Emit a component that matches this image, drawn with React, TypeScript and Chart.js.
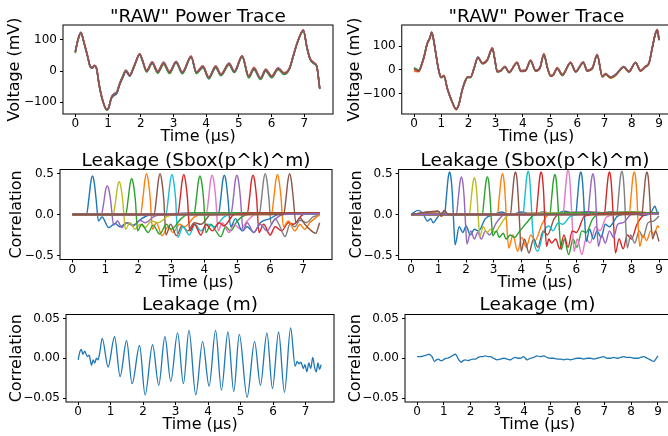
import React, { useEffect, useRef } from "react";
import { Chart, registerables } from "chart.js";
Chart.register(...registerables);

type Pt = [number, number];

const C = ["#1f77b4", "#ff7f0e", "#2ca02c", "#d62728", "#9467bd", "#8c564b", "#e377c2", "#7f7f7f", "#bcbd22", "#17becf"];

// ---------- tick values / labels ----------
const xTicksL = [0, 1, 2, 3, 4, 5, 6, 7];
const xTicksR = [0, 1, 2, 3, 4, 5, 6, 7, 8, 9];
const yTicksRaw = [-100, 0, 100];
const yLabelsRaw = ["\u2212100", "0", "100"];
const yTicksCorr = [-0.5, 0, 0.5];
const yLabelsCorr = ["\u22120.5", "0.0", "0.5"];
const yTicksM = [-0.05, 0, 0.05];
const yLabelsM = ["\u22120.05", "0.00", "0.05"];

// ---------- "RAW" power trace, left (mV) ----------
const rawTimeL = [0.00,0.08,0.17,0.27,0.38,0.45,0.52,0.58,0.65,0.73,0.83,0.96,1.02,1.10,1.18,1.27,1.35,1.45,1.55,1.66,1.80,1.97,2.05,2.18,2.35,2.52,2.70,2.88,3.08,3.27,3.54,3.70,3.90,4.08,4.29,4.45,4.70,4.86,5.10,5.30,5.46,5.66,5.82,6.00,6.20,6.38,6.55,6.65,6.78,6.97,7.08,7.18,7.30,7.38,7.47];
const rawL_blue = [60,99,123,89,45,15,9,16,7,-46,-93,-125,-120,-90,-79,-72,-47,-22,-2,-17,13,52,33,-2,24,-6,22,-7,27,-8,44,-8,11,-25,11,-14,20,-5,45,-21,5,-27,0,-21,5,-10,8,43,89,130,74,37,24,14,-56];
const rawL_orange = [58,98,122,92,48,18,12,18,10,-42,-90,-122,-117,-85,-74,-68,-42,-18,2,-12,18,53,37,3,30,0,29,-1,28,-2,45,-2,18,-19,17,-9,26,0,46,-15,12,-21,7,-15,11,-5,12,47,92,128,77,40,27,17,-55];
const rawL_green = [58,97,121,88,44,14,9,16,7,-47,-94,-126,-119,-86,-73,-66,-40,-15,3,-12,17,52,33,-3,25,-7,22,-8,27,-9,44,-8,12,-25,11,-15,20,-5,45,-22,5,-27,0,-21,5,-11,8,43,88,127,73,36,23,13,-58];
const rawL_red = [64,101,125,91,47,17,11,18,9,-44,-91,-123,-117,-86,-75,-69,-44,-19,1,-14,16,56,36,1,28,-2,26,-3,31,-4,48,-4,15,-21,15,-11,24,-1,49,-17,9,-23,4,-17,9,-7,9,44,89,133,76,39,26,16,-56];
const rawL_purple = [61,100,125,91,47,17,11,19,9,-44,-91,-123,-118,-87,-74,-68,-43,-18,2,-13,17,55,36,2,29,-1,28,-2,31,-3,47,-3,16,-20,16,-10,25,0,48,-16,10,-22,6,-16,10,-6,11,46,91,131,76,39,26,16,-56];
const rawL_brown = [62,100,124,90,46,16,10,17,8,-45,-92,-124,-118,-88,-76,-70,-45,-20,0,-15,15,55,35,0,27,-3,25,-4,30,-5,47,-5,14,-22,14,-12,23,-2,48,-18,8,-24,3,-18,8,-8,10,45,90,132,75,38,25,15,-57];

// ---------- "RAW" power trace, right (mV) ----------
const rawTimeR = [0.00,0.18,0.30,0.37,0.49,0.58,0.65,0.73,0.80,0.88,0.96,1.02,1.10,1.22,1.40,1.55,1.65,1.77,1.90,1.97,2.08,2.20,2.35,2.51,2.69,2.88,2.96,3.06,3.18,3.34,3.49,3.79,3.92,4.10,4.28,4.47,4.63,4.77,4.90,5.02,5.12,5.26,5.45,5.75,5.94,6.22,6.36,6.55,6.73,6.92,7.04,7.22,7.40,7.71,7.89,8.14,8.32,8.50,8.63,8.75,8.87,8.94,9.00];
const rawR_blue = [8,0,31,57,114,136,159,121,71,15,-24,-30,-23,-76,-133,-165,-144,-84,-41,-29,-30,6,55,29,43,93,51,-6,-3,15,-9,32,-3,-1,40,-2,11,67,11,-24,-19,8,-20,32,-6,33,-2,8,64,-27,-16,-30,-20,15,-6,32,-2,15,29,93,156,170,128];
const rawR_orange = [-5,-8,25,52,110,132,155,122,72,16,-22,-28,-22,-75,-132,-168,-147,-87,-44,-28,-29,7,52,30,44,95,52,-5,-2,16,-8,34,-2,0,42,-1,12,70,12,-22,-17,10,-18,34,-4,35,0,10,66,-25,-14,-35,-24,12,-9,33,-1,16,30,95,152,172,130];
const rawR_green = [10,-1,32,58,115,135,157,118,68,12,-27,-33,-26,-79,-136,-164,-143,-83,-40,-32,-33,3,52,26,40,90,48,-9,-6,12,-12,29,-6,-4,37,-5,8,62,8,-27,-22,5,-24,28,-9,30,-5,5,60,-30,-19,-33,-23,12,-9,29,-5,12,26,90,153,167,125];
const rawR_red = [3,-5,28,55,112,133,160,123,73,15,-23,-29,-25,-78,-135,-167,-146,-86,-43,-31,-30,4,53,27,41,91,49,-8,-5,13,-11,30,-5,-3,38,-4,9,64,9,-26,-21,6,-22,30,-8,31,-4,6,62,-29,-18,-32,-22,13,-8,30,-4,13,27,91,154,168,126];
const rawR_purple = [6,-2,30,57,114,135,159,121,71,15,-24,-30,-24,-77,-134,-166,-145,-85,-42,-30,-31,5,55,29,43,93,51,-6,-3,15,-9,32,-3,-1,41,-2,11,68,11,-24,-19,8,-20,33,-6,34,-2,8,65,-27,-16,-30,-20,15,-6,32,-2,15,29,93,155,170,128];
const rawR_brown = [5,-3,30,56,113,134,158,120,70,14,-25,-31,-24,-77,-134,-166,-145,-85,-42,-30,-31,5,54,28,42,92,50,-7,-4,14,-10,31,-4,-2,39,-3,10,66,10,-25,-20,7,-21,31,-7,32,-3,7,63,-28,-17,-31,-21,14,-7,31,-3,14,28,92,155,169,127];

// ---------- Leakage (Sbox(p^k)^m), left: [time µs, correlation] per key byte ----------
const mlK0: Pt[] = [[0,0],[0.43,0],[0.5,0.19],[0.56,0.4],[0.61,0.47],[0.66,0.4],[0.72,0.19],[0.79,-0.08],[0.9,-0.03],[1.1,-0.16],[1.3,-0.11],[1.45,-0.15],[1.65,-0.1],[1.85,-0.13],[2.1,-0.05],[2.4,0],[3.0,0.01],[4.0,0.02],[5.0,0.01],[6.0,0.02],[7.5,0.01]];
const mlK1: Pt[] = [[0,0],[2.07,0],[2.14,0.2],[2.2,0.42],[2.25,0.5],[2.3,0.42],[2.36,0.2],[2.43,-0.18],[2.55,-0.1],[2.72,-0.26],[2.9,-0.15],[3.05,-0.22],[3.25,-0.12],[3.4,-0.15],[3.7,-0.03],[4.0,0.01],[5.0,0.02],[6.0,0.01],[7.5,0.02]];
const mlK2: Pt[] = [[0,0],[3.69,0],[3.76,0.19],[3.82,0.4],[3.87,0.47],[3.92,0.4],[3.98,0.19],[4.05,-0.22],[4.2,-0.12],[4.35,-0.2],[4.5,-0.27],[4.65,-0.15],[4.8,-0.2],[5.0,-0.08],[5.3,0],[6.2,0.02],[7.5,0.01]];
const mlK3: Pt[] = [[0,0],[5.3,0],[5.37,0.19],[5.43,0.41],[5.48,0.48],[5.53,0.41],[5.59,0.19],[5.66,-0.22],[5.8,-0.12],[6.0,-0.25],[6.15,-0.15],[6.35,-0.2],[6.55,-0.1],[6.7,-0.12],[7.0,0],[7.5,0.02]];
const mlK4: Pt[] = [[0,0],[0.88,0],[0.95,0.14],[1.01,0.3],[1.06,0.35],[1.11,0.3],[1.17,0.14],[1.25,-0.13],[1.37,-0.08],[1.5,-0.16],[1.65,-0.1],[1.85,-0.14],[2.05,-0.07],[2.2,-0.1],[2.5,-0.02],[3.0,0.01],[4.5,0.02],[7.5,0.01]];
const mlK5: Pt[] = [[0,0],[2.48,0],[2.55,0.2],[2.61,0.42],[2.66,0.5],[2.71,0.42],[2.77,0.2],[2.84,-0.25],[2.98,-0.12],[3.16,-0.26],[3.32,-0.14],[3.5,-0.2],[3.7,-0.1],[3.9,-0.12],[4.2,0],[5.5,0.02],[7.5,0.01]];
const mlK6: Pt[] = [[0,0],[4.06,0],[4.13,0.19],[4.19,0.41],[4.24,0.48],[4.29,0.41],[4.35,0.19],[4.42,-0.2],[4.55,-0.1],[4.75,-0.22],[4.9,-0.12],[5.1,-0.18],[5.3,-0.08],[5.6,0.01],[7.5,0.01]];
const mlK7: Pt[] = [[0,0],[5.67,0],[5.74,0.2],[5.8,0.42],[5.85,0.5],[5.9,0.42],[5.96,0.2],[6.03,-0.12],[6.15,-0.05],[6.3,-0.15],[6.45,-0.27],[6.6,-0.12],[6.75,-0.15],[6.9,-0.07],[7.1,-0.1],[7.3,-0.03],[7.5,-0.01]];
const mlK8: Pt[] = [[0,0],[1.24,0],[1.31,0.16],[1.37,0.34],[1.42,0.4],[1.47,0.34],[1.53,0.16],[1.61,-0.18],[1.75,-0.1],[1.9,-0.18],[2.05,-0.12],[2.2,-0.16],[2.4,-0.08],[2.6,-0.1],[2.9,-0.02],[3.5,0.01],[7.5,0.01]];
const mlK9: Pt[] = [[0,0],[2.84,0],[2.91,0.2],[2.97,0.41],[3.02,0.49],[3.07,0.41],[3.13,0.2],[3.2,-0.28],[3.35,-0.15],[3.55,-0.25],[3.72,-0.12],[3.9,-0.2],[4.1,-0.12],[4.3,-0.15],[4.6,-0.03],[5.0,0.02],[7.5,0.02]];
const mlK10: Pt[] = [[0,0],[4.43,0],[4.5,0.19],[4.56,0.41],[4.61,0.48],[4.66,0.41],[4.72,0.19],[4.8,-0.15],[4.95,-0.05],[5.15,-0.2],[5.3,-0.15],[5.5,-0.22],[5.7,-0.1],[6.0,-0.05],[6.3,0.01],[7.5,0.01]];
const mlK11: Pt[] = [[0,0],[6.04,0],[6.11,0.2],[6.17,0.41],[6.22,0.49],[6.27,0.41],[6.33,0.2],[6.4,-0.15],[6.55,-0.08],[6.75,-0.2],[6.9,-0.12],[7.05,-0.18],[7.2,-0.1],[7.35,-0.05],[7.5,0]];
const mlK12: Pt[] = [[0,0],[1.62,0],[1.69,0.18],[1.75,0.37],[1.8,0.44],[1.85,0.37],[1.91,0.18],[1.98,-0.2],[2.1,-0.12],[2.3,-0.22],[2.45,-0.13],[2.65,-0.24],[2.85,-0.12],[3.0,-0.18],[3.3,-0.05],[3.6,0.02],[7.5,0.02]];
const mlK13: Pt[] = [[0,0],[3.2,0],[3.27,0.2],[3.33,0.41],[3.38,0.49],[3.43,0.41],[3.49,0.2],[3.56,-0.2],[3.7,-0.12],[3.9,-0.25],[4.05,-0.12],[4.25,-0.2],[4.45,-0.1],[4.6,-0.14],[4.9,0],[5.5,0.02],[7.5,0.02]];
const mlK14: Pt[] = [[0,0],[4.81,0],[4.88,0.19],[4.94,0.41],[4.99,0.48],[5.04,0.41],[5.1,0.19],[5.18,-0.2],[5.3,-0.1],[5.5,-0.22],[5.7,-0.12],[5.9,-0.2],[6.1,-0.08],[6.4,0],[7.5,0.01]];
const mlK15: Pt[] = [[0,0],[6.41,0],[6.48,0.2],[6.54,0.42],[6.59,0.5],[6.64,0.42],[6.7,0.2],[6.78,-0.1],[6.9,-0.04],[7.05,-0.12],[7.25,-0.2],[7.38,-0.23],[7.5,-0.1]];

// ---------- Leakage (Sbox(p^k)^m), right ----------
const mrK0: Pt[] = [[0,0],[0.25,0.05],[0.42,0.02],[0.6,-0.08],[0.72,-0.05],[0.8,-0.1],[0.95,-0.04],[1.1,0.02],[1.22,0],[1.28,0.2],[1.35,0.45],[1.4,0.52],[1.45,0.45],[1.5,0.25],[1.55,-0.1],[1.6,-0.37],[1.75,-0.15],[1.88,-0.22],[2.0,-0.14],[2.15,-0.25],[2.3,-0.18],[2.45,-0.2],[2.7,-0.05],[3.0,0],[3.3,0.03],[3.6,-0.01],[4.0,0.03],[4.4,0],[4.8,0.03],[5.2,0.01],[5.6,0.04],[6.0,0],[6.4,0.03],[6.8,0.01],[7.2,0.03],[7.6,0],[8.0,0.02],[8.4,-0.01],[8.7,0.02],[8.85,0.1],[8.95,0.02],[9.0,0.03]];
const mrK1: Pt[] = [[0,0],[0.9,0.02],[1.1,-0.02],[1.3,0.01],[3.14,0],[3.2,0.2],[3.27,0.43],[3.32,0.5],[3.37,0.43],[3.42,0.22],[3.47,-0.1],[3.55,-0.41],[3.7,-0.25],[3.87,-0.45],[4.02,-0.28],[4.18,-0.4],[4.35,-0.25],[4.5,-0.32],[4.75,-0.12],[5.0,0],[6.0,0.02],[7.0,0.01],[8.0,0.03],[9.0,0.01]];
const mrK2: Pt[] = [[0,0],[5.04,0],[5.1,0.19],[5.17,0.42],[5.22,0.49],[5.27,0.42],[5.32,0.2],[5.37,-0.1],[5.45,-0.43],[5.57,-0.3],[5.72,-0.49],[5.88,-0.3],[6.02,-0.4],[6.2,-0.2],[6.35,-0.22],[6.6,-0.05],[7.0,0.02],[8.0,0.03],[9.0,0.01]];
const mrK3: Pt[] = [[0,0],[7.02,0],[7.08,0.2],[7.15,0.45],[7.2,0.52],[7.25,0.45],[7.3,0.22],[7.35,-0.1],[7.42,-0.47],[7.55,-0.3],[7.7,-0.42],[7.85,-0.25],[8.0,-0.3],[8.2,-0.12],[8.5,0],[9.0,0.02]];
const mrK4: Pt[] = [[0,0],[0.9,0.01],[1.2,-0.01],[1.65,0],[1.71,0.18],[1.78,0.4],[1.83,0.46],[1.88,0.39],[1.93,0.2],[1.98,-0.12],[2.03,-0.36],[2.17,-0.2],[2.3,-0.3],[2.42,-0.22],[2.55,-0.3],[2.7,-0.2],[2.85,-0.25],[3.1,-0.1],[3.4,0],[4.5,0.02],[6.0,0.01],[7.5,0.02],[9.0,0.01]];
const mrK5: Pt[] = [[0,0],[1.0,0.04],[1.1,-0.02],[1.2,0.05],[1.35,0],[3.61,0],[3.67,0.2],[3.74,0.45],[3.79,0.52],[3.84,0.45],[3.89,0.22],[3.94,-0.1],[4.0,-0.45],[4.12,-0.3],[4.28,-0.47],[4.45,-0.3],[4.6,-0.4],[4.8,-0.2],[4.95,-0.25],[5.2,-0.05],[5.5,0.02],[6.5,0.03],[7.5,0.01],[9.0,0.02]];
const mrK6: Pt[] = [[0,0],[5.52,0],[5.58,0.21],[5.65,0.47],[5.7,0.54],[5.75,0.47],[5.8,0.22],[5.85,-0.1],[5.92,-0.45],[6.03,-0.3],[6.2,-0.49],[6.35,-0.3],[6.5,-0.35],[6.7,-0.15],[6.85,-0.2],[7.1,-0.03],[8.0,0.02],[9.0,0.01]];
const mrK7: Pt[] = [[0,0],[7.47,0],[7.53,0.21],[7.6,0.46],[7.65,0.53],[7.7,0.46],[7.75,0.22],[7.79,-0.1],[7.85,-0.41],[7.97,-0.25],[8.12,-0.35],[8.28,-0.2],[8.42,-0.28],[8.6,-0.1],[8.8,-0.08],[9.0,-0.02]];
const mrK8: Pt[] = [[0,0],[2.12,0],[2.18,0.18],[2.25,0.39],[2.3,0.45],[2.35,0.39],[2.4,0.2],[2.45,-0.08],[2.5,-0.27],[2.62,-0.15],[2.75,-0.22],[2.9,-0.18],[3.05,-0.22],[3.2,-0.15],[3.4,-0.05],[3.6,0],[5.0,0.02],[7.0,0.01],[9.0,0.01]];
const mrK9: Pt[] = [[0,0],[4.07,0],[4.13,0.21],[4.2,0.46],[4.25,0.53],[4.3,0.46],[4.35,0.22],[4.4,-0.1],[4.45,-0.3],[4.6,-0.45],[4.8,-0.22],[5.0,-0.14],[5.15,-0.2],[5.35,-0.1],[5.5,-0.12],[5.8,-0.02],[7.0,0.02],[9.0,0.01]];
const mrK10: Pt[] = [[0,0],[5.98,0],[6.04,0.2],[6.11,0.45],[6.16,0.52],[6.21,0.45],[6.26,0.22],[6.3,-0.05],[6.36,-0.33],[6.48,-0.18],[6.62,-0.3],[6.75,-0.2],[6.9,-0.28],[7.05,-0.12],[7.2,-0.15],[7.5,-0.02],[8.2,0.02],[9.0,0.01]];
const mrK11: Pt[] = [[0,0],[7.92,0],[7.98,0.2],[8.05,0.45],[8.1,0.52],[8.15,0.45],[8.2,0.22],[8.24,-0.1],[8.3,-0.39],[8.42,-0.25],[8.55,-0.32],[8.7,-0.2],[8.82,-0.25],[8.95,-0.14],[9.0,-0.16]];
const mrK12: Pt[] = [[0,0],[2.59,0],[2.65,0.18],[2.72,0.4],[2.77,0.46],[2.82,0.4],[2.87,0.2],[2.92,-0.08],[2.97,-0.26],[3.1,-0.2],[3.2,-0.28],[3.35,-0.23],[3.45,-0.3],[3.6,-0.25],[3.75,-0.28],[3.95,-0.2],[4.2,-0.1],[4.5,0],[6.0,0.02],[9.0,0.02]];
const mrK13: Pt[] = [[0,0],[4.54,0],[4.6,0.2],[4.67,0.45],[4.72,0.52],[4.77,0.45],[4.82,0.22],[4.86,-0.1],[4.92,-0.39],[5.0,-0.3],[5.1,-0.35],[5.25,-0.3],[5.4,-0.42],[5.55,-0.25],[5.7,-0.4],[5.85,-0.2],[6.0,-0.22],[6.3,-0.02],[7.5,0.02],[9.0,0.01]];
const mrK14: Pt[] = [[0,0],[6.42,0],[6.48,0.2],[6.55,0.43],[6.6,0.5],[6.65,0.43],[6.7,0.22],[6.74,-0.1],[6.8,-0.39],[6.92,-0.25],[7.05,-0.35],[7.2,-0.2],[7.35,-0.28],[7.5,-0.12],[7.7,-0.1],[8.0,0],[9.0,0.01]];
const mrK15: Pt[] = [[0,0],[1.0,0.04],[1.1,-0.02],[1.2,0.05],[1.35,0],[8.38,0],[8.44,0.2],[8.51,0.45],[8.56,0.52],[8.61,0.45],[8.66,0.22],[8.7,-0.05],[8.77,-0.3],[8.87,-0.2],[9.0,-0.33]];

// ---------- Leakage (m) ----------
const leakML: Pt[] = [[0.00,-0.002],[0.05,0.008],[0.10,0.011],[0.14,0.005],[0.20,0.009],[0.28,0.002],[0.34,0.004],[0.38,-0.004],[0.41,-0.009],[0.46,-0.002],[0.51,-0.006],[0.56,0.0],[0.61,-0.002],[0.66,0.006],[0.74,0.025],[0.92,-0.011],[1.12,0.027],[1.29,-0.023],[1.49,0.022],[1.66,-0.032],[1.89,0.016],[2.06,-0.046],[2.29,0.017],[2.48,-0.034],[2.67,0.027],[2.85,-0.029],[3.06,0.032],[3.24,-0.032],[3.41,0.035],[3.62,-0.046],[3.83,0.021],[4.03,-0.035],[4.23,0.035],[4.41,-0.04],[4.61,0.033],[4.79,-0.042],[4.96,0.03],[5.20,-0.049],[5.43,0.021],[5.61,-0.034],[5.81,0.032],[5.98,-0.038],[6.17,0.033],[6.35,-0.043],[6.54,0.038],[6.68,-0.01],[6.74,-0.004],[6.80,-0.007],[6.86,-0.005],[6.93,-0.013],[6.98,-0.008],[7.04,-0.017],[7.10,-0.006],[7.16,-0.013],[7.22,0.001],[7.28,-0.012],[7.33,-0.017],[7.38,-0.006],[7.43,-0.014],[7.48,-0.008]];
const leakMR: Pt[] = [[0.00,0.002],[0.12,0.002],[0.25,0.003],[0.35,0.004],[0.44,0.005],[0.56,0.002],[0.65,-0.004],[0.72,-0.002],[0.81,-0.001],[0.88,-0.003],[0.93,-0.003],[1.02,-0.001],[1.12,0.0],[1.22,0.001],[1.31,0.003],[1.43,0.005],[1.50,0.002],[1.56,-0.002],[1.66,-0.005],[1.72,-0.003],[1.81,-0.002],[1.90,-0.003],[1.99,-0.002],[2.08,-0.001],[2.18,-0.001],[2.28,0.001],[2.37,0.002],[2.46,0.002],[2.55,0.003],[2.65,0.002],[2.74,0.002],[2.86,0.0],[2.99,-0.002],[3.10,-0.001],[3.24,0.0],[3.36,-0.001],[3.49,-0.002],[3.58,0.0],[3.67,0.001],[3.76,0.0],[3.86,0.0],[3.98,0.002],[4.11,-0.002],[4.23,0.0],[4.36,0.001],[4.48,0.003],[4.60,0.002],[4.73,0.003],[4.86,0.001],[4.98,0.0],[5.10,0.0],[5.23,-0.001],[5.35,-0.001],[5.48,-0.002],[5.60,-0.001],[5.73,-0.002],[5.85,-0.001],[5.98,0.0],[6.10,0.0],[6.23,-0.001],[6.35,0.0],[6.48,0.0],[6.60,-0.001],[6.72,0.0],[6.85,0.001],[6.97,0.002],[7.10,0.0],[7.22,0.0],[7.35,0.001],[7.47,0.0],[7.60,0.001],[7.72,0.002],[7.85,0.001],[7.97,0.001],[8.10,0.0],[8.22,0.0],[8.35,0.001],[8.47,0.002],[8.60,0.0],[8.72,-0.002],[8.84,-0.004],[8.92,-0.001],[9.00,0.003]];

// ---------- panel setup ----------
interface Series { pts: Pt[]; color: string; width: number }
interface PanelCfg {
  left: number; top: number; w: number; h: number;
  area: { l: number; r: number; t: number; b: number };
  xMin: number; xMax: number; xTicks: number[];
  yMin: number; yMax: number; yTicks: number[]; yLabels: string[];
  title: string; titleBase: number;
  yTitle: string; yTitlePad: number; xTitlePad: number;
  series: Series[];
}

const zipT = (t: number[], v: number[]): Pt[] => t.map((x, i) => [x, v[i]] as Pt);

const rawSeries = (t: number[], arrs: number[][], colors: string[]): Series[] =>
  arrs.map((a, i) => ({ pts: zipT(t, a), color: colors[i], width: 1.5 }));

const keySeries = (arrs: Pt[][]): Series[] => arrs.map((a, i) => ({ pts: a, color: C[i % 10], width: 1.4 }));

const rawColors = [C[0], C[1], C[2], C[3], C[4], C[5]];

const panels: PanelCfg[] = [
  {
    left: 0, top: 0, w: 340, h: 150, area: { l: 63, r: 333, t: 25, b: 114 },
    xMin: -0.375, xMax: 7.875, xTicks: xTicksL, yMin: -138, yMax: 148, yTicks: yTicksRaw, yLabels: yLabelsRaw,
    title: "\"RAW\" Power Trace", titleBase: 21.8, yTitle: "Voltage (mV)", yTitlePad: 4.9, xTitlePad: 3.7,
    series: rawSeries(rawTimeL, [rawL_blue, rawL_orange, rawL_green, rawL_red, rawL_purple, rawL_brown], rawColors),
  },
  {
    left: 334, top: 0, w: 346, h: 150, area: { l: 67.75, r: 337.25, t: 25, b: 114 },
    xMin: -0.45, xMax: 9.45, xTicks: xTicksR, yMin: -186, yMax: 190, yTicks: yTicksRaw, yLabels: yLabelsRaw,
    title: "\"RAW\" Power Trace", titleBase: 21.8, yTitle: "Voltage (mV)", yTitlePad: 11.6, xTitlePad: 3.7,
    series: rawSeries(rawTimeR, [rawR_blue, rawR_orange, rawR_green, rawR_red, rawR_purple, rawR_brown], rawColors),
  },
  {
    left: 0, top: 145, w: 340, h: 152, area: { l: 60, r: 332, t: 24.5, b: 114.5 },
    xMin: -0.375, xMax: 7.875, xTicks: xTicksL, yMin: -0.55, yMax: 0.55, yTicks: yTicksCorr, yLabels: yLabelsCorr,
    title: "Leakage (Sbox(p^k)^m)", titleBase: 20.8, yTitle: "Correlation", yTitlePad: 7.6, xTitlePad: 4.6,
    series: keySeries([mlK0, mlK1, mlK2, mlK3, mlK4, mlK5, mlK6, mlK7, mlK8, mlK9, mlK10, mlK11, mlK12, mlK13, mlK14, mlK15]),
  },
  {
    left: 334, top: 145, w: 346, h: 152, area: { l: 64.6, r: 337.4, t: 24.5, b: 114.5 },
    xMin: -0.45, xMax: 9.45, xTicks: xTicksR, yMin: -0.55, yMax: 0.55, yTicks: yTicksCorr, yLabels: yLabelsCorr,
    title: "Leakage (Sbox(p^k)^m)", titleBase: 20.8, yTitle: "Correlation", yTitlePad: 13.2, xTitlePad: 4.8,
    series: keySeries([mrK0, mrK1, mrK2, mrK3, mrK4, mrK5, mrK6, mrK7, mrK8, mrK9, mrK10, mrK11, mrK12, mrK13, mrK14, mrK15]),
  },
  {
    left: 0, top: 295, w: 340, h: 141, area: { l: 66, r: 334, t: 19.5, b: 107 },
    xMin: -0.375, xMax: 7.875, xTicks: xTicksL, yMin: -0.055, yMax: 0.055, yTicks: yTicksM, yLabels: yLabelsM,
    title: "Leakage (m)", titleBase: 15.2, yTitle: "Correlation", yTitlePad: 7.6, xTitlePad: 1.2,
    series: [{ pts: leakML, color: C[0], width: 1.3 }],
  },
  {
    left: 334, top: 295, w: 346, h: 141, area: { l: 71, r: 336, t: 19.5, b: 107 },
    xMin: -0.45, xMax: 9.45, xTicks: xTicksR, yMin: -0.055, yMax: 0.055, yTicks: yTicksM, yLabels: yLabelsM,
    title: "Leakage (m)", titleBase: 15.2, yTitle: "Correlation", yTitlePad: 12.4, xTitlePad: 1.2,
    series: [{ pts: leakMR, color: C[0], width: 1.3 }],
  },
];

const FONT = '"DejaVu Sans", sans-serif';

const decorPlugin = {
  id: "panelDecor",
  afterDraw(chart: any, _args: any, opts: any) {
    const { ctx, chartArea: a } = chart;
    ctx.save();
    ctx.strokeStyle = "#000";
    ctx.lineWidth = 1;
    ctx.strokeRect(a.left, a.top, a.right - a.left, a.bottom - a.top);
    ctx.fillStyle = "#000";
    ctx.font = `18.5px ${FONT}`;
    ctx.textAlign = "center";
    ctx.textBaseline = "alphabetic";
    ctx.fillText(opts.text, (a.left + a.right) / 2, opts.baseline);
    ctx.restore();
  },
};

function Panel({ cfg }: { cfg: PanelCfg }) {
  const ref = useRef<HTMLCanvasElement>(null);
  useEffect(() => {
    const c = cfg;
    const n = c.series.length;
    const chart = new Chart(ref.current as HTMLCanvasElement, {
      type: "line",
      data: {
        // later series are drawn on top (order: lower value drawn last)
        datasets: c.series.map((s, i) => ({
          data: s.pts.map(([x, y]) => ({ x, y })),
          borderColor: s.color,
          borderWidth: s.width,
          pointRadius: 0,
          fill: false,
          order: n - i,
          cubicInterpolationMode: "monotone",
        })),
      },
      options: {
        animation: false,
        responsive: false,
        events: [],
        layout: { padding: { left: 0, top: c.area.t, right: c.w - c.area.r, bottom: 0 } },
        plugins: {
          legend: { display: false },
          tooltip: { enabled: false },
          title: { display: false },
          panelDecor: { text: c.title, baseline: c.titleBase },
        } as any,
        scales: {
          x: {
            type: "linear",
            min: c.xMin,
            max: c.xMax,
            afterBuildTicks: (s: any) => { s.ticks = c.xTicks.map((v) => ({ value: v })); },
            afterFit: (s: any) => { s.height = c.h - c.area.b; },
            ticks: { font: { size: 12, family: FONT }, color: "#000", padding: 0, maxRotation: 0, autoSkip: false, callback: (v: any) => String(v) },
            grid: { drawOnChartArea: false, drawTicks: true, tickLength: 3, color: "#000", lineWidth: 1 },
            border: { display: false },
            title: { display: true, text: "Time (\u03bcs)", color: "#000", font: { size: 16, family: FONT }, padding: { top: 0, bottom: c.xTitlePad } },
          },
          y: {
            type: "linear",
            min: c.yMin,
            max: c.yMax,
            afterBuildTicks: (s: any) => { s.ticks = c.yTicks.map((v) => ({ value: v })); },
            afterFit: (s: any) => { s.width = c.area.l; },
            ticks: {
              font: { size: 12, family: FONT }, color: "#000", padding: 3, autoSkip: false,
              callback: (v: any) => {
                const i = c.yTicks.findIndex((t) => Math.abs(t - v) < 1e-9);
                return i >= 0 ? c.yLabels[i] : "";
              },
            },
            grid: { drawOnChartArea: false, drawTicks: true, tickLength: 3, color: "#000", lineWidth: 1 },
            border: { display: false },
            title: { display: true, text: c.yTitle, color: "#000", font: { size: 16, family: FONT }, padding: { top: c.yTitlePad, bottom: 0 } },
          },
        },
      } as any,
      plugins: [decorPlugin as any],
    });
    return () => chart.destroy();
  }, [cfg]);
  return (
    <canvas
      ref={ref}
      width={cfg.w}
      height={cfg.h}
      style={{ position: "absolute", left: cfg.left, top: cfg.top, width: cfg.w, height: cfg.h }}
    />
  );
}

export default function App() {
  return (
    <div style={{ position: "fixed", left: 0, top: 0, width: 668, height: 436, overflow: "hidden", background: "#fff" }}>
      {panels.map((p, i) => (
        <Panel key={i} cfg={p} />
      ))}
    </div>
  );
}
